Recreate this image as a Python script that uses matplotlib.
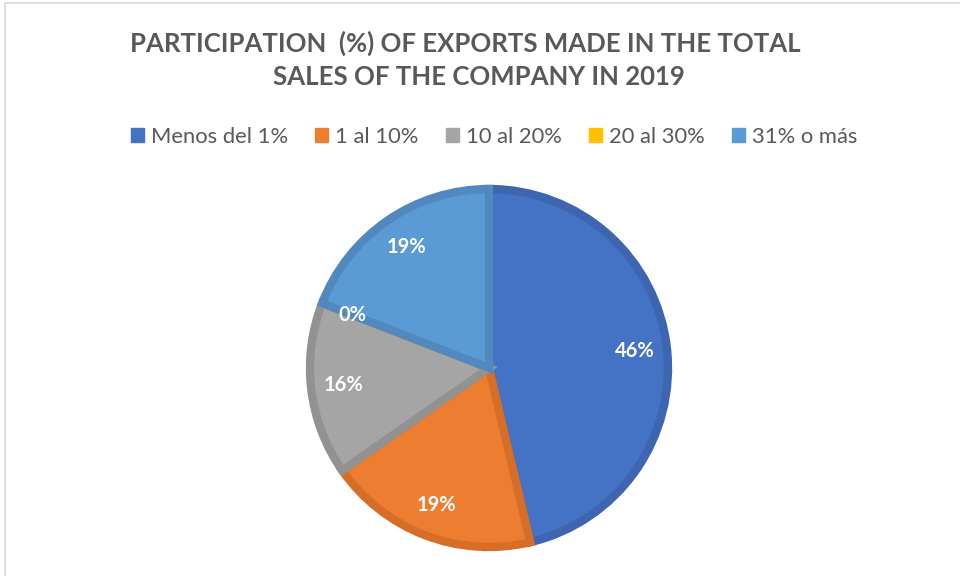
import matplotlib
matplotlib.use("Agg")
import matplotlib.pyplot as plt
from matplotlib.patches import Patch, Rectangle

# data
categories = ["Menos del 1%", "1 al 10%", "10 al 20%", "20 al 30%", "31% o más"]
shares = [46.3, 19.0, 15.6, 0.0, 19.1]
colors = ["#4472C4", "#ED7D31", "#A5A5A5", "#FFC000", "#5B9BD5"]
edge_colors = ["#3D65B0", "#D66E28", "#929292", "#E6AD00", "#5189BE"]
title_lines = ["PARTICIPATION  (%) OF EXPORTS MADE IN THE TOTAL", "SALES OF THE COMPANY IN 2019"]

plt.rcParams['font.family'] = ['Lato', 'DejaVu Sans']

W, H = 960, 576
fig = plt.figure(figsize=(W / 100, H / 100), dpi=100)

# light frame of the chart area (top and left edges show)
fig.patches.append(Rectangle((5 / W, -0.1), 1.2, (H - 3) / H + 0.1, transform=fig.transFigure,
                             fill=False, edgecolor="#D9D9D9", linewidth=1.2))

cx, cy, r = 489, 368, 179
ax = fig.add_axes([(cx - r) / W, (H - cy - r) / H, 2 * r / W, 2 * r / H])
wedges, texts, autotexts = ax.pie(shares, colors=colors, startangle=90, counterclock=False,
                                  autopct=lambda p: "%d%%" % round(p), pctdistance=0.82,
                                  radius=1.0, textprops=dict(color="white", fontsize=14.5,
                                                             fontweight="bold"))
for w, ec in zip(wedges, edge_colors):
    w.set_edgecolor(ec)
    w.set_linewidth(6)
    w.set_clip_path(w)
ax.set_xlim(-1, 1)
ax.set_ylim(-1, 1)
ax.axis("off")

# the two title lines are not centred on the same x in the original
fig.text(465 / W, 1 - 43 / H, title_lines[0], ha="center", va="center", fontsize=18.5,
         fontweight="bold", color="#595959")
fig.text(479 / W, 1 - 77 / H, title_lines[1], ha="center", va="center", fontsize=18.5,
         fontweight="bold", color="#595959")

handles = [Patch(facecolor=c, edgecolor=c) for c in colors]
fig.legend(handles, categories, loc="center", bbox_to_anchor=(494 / W, 1 - 137 / H), ncol=5,
           frameon=False, fontsize=15.8, labelcolor="#595959", handlelength=0.6,
           handleheight=0.6, handletextpad=0.3, columnspacing=1.25)

fig.savefig("out.png", dpi=100, facecolor="white")
